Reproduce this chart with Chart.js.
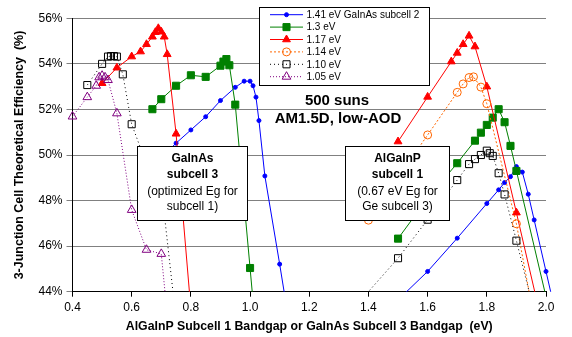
<!DOCTYPE html>
<html>
<head>
<meta charset="utf-8">
<script src="https://cdn.jsdelivr.net/npm/chart.js@4.4.1/dist/chart.umd.min.js"></script>
<style>
body{margin:0;background:#fff;}
#wrap{width:572px;height:337px;}
</style>
</head>
<body>
<div id="wrap"><canvas id="chart" width="572" height="337"></canvas></div>
<script>
// tick labels
const xTicks = [0.4, 0.6, 0.8, 1.0, 1.2, 1.4, 1.6, 1.8, 2.0]
const yTicks = [44, 46, 48, 50, 52, 54, 56]

// series names
const seriesNames = ['1.41 eV GaInAs subcell 2', '1.3 eV', '1.17 eV', '1.14 eV', '1.10 eV', '1.05 eV']

// each series: left branch (GaInAs subcell 3), null, right branch (AlGaInP subcell 1)
const blueX = [0.70, 0.75, 0.80, 0.85, 0.90, 0.95, 0.98, 1.00, 1.01, 1.02, 1.03, 1.05, 1.10, 1.12, null, 1.50, 1.60, 1.70, 1.80, 1.84, 1.86, 1.88, 1.90, 1.92, 1.94, 1.96, 2.00, 2.02]
const blueY = [49.9, 50.52, 51.10, 51.68, 52.39, 52.97, 53.24, 53.24, 53.04, 52.54, 51.51, 49.08, 45.21, 43.6, null, 43.64, 44.89, 46.35, 47.87, 48.47, 48.79, 49.05, 49.49, 49.25, 48.28, 47.15, 44.89, 43.76]

const greenX = [0.67, 0.70, 0.75, 0.80, 0.85, 0.90, 0.91, 0.92, 0.93, 0.95, 1.00, 1.01, null, 1.50, 1.60, 1.70, 1.76, 1.78, 1.80, 1.82, 1.84, 1.86, 1.88, 1.90, 2.00]
const greenY = [52.01, 52.45, 53.04, 53.50, 53.43, 53.92, 54.10, 54.21, 53.94, 52.21, 45.04, 43.6, null, 46.33, 48.1, 49.64, 50.63, 50.98, 51.32, 51.64, 52.01, 51.44, 50.40, 49.30, 43.78]

const redX = [0.50, 0.55, 0.60, 0.63, 0.65, 0.67, 0.68, 0.69, 0.70, 0.71, 0.72, 0.75, 0.80, null, 1.50, 1.60, 1.68, 1.70, 1.72, 1.74, 1.76, 1.80, 1.90, 1.97]
const redY = [53.15, 53.83, 54.32, 54.54, 54.86, 55.19, 55.39, 55.56, 55.41, 55.19, 54.42, 50.93, 43.23, null, 50.59, 52.55, 54.10, 54.48, 54.86, 55.23, 54.76, 53.0, 47.47, 43.55]

const orangeX = [1.40, 1.50, 1.60, 1.70, 1.72, 1.74, 1.755, 1.78, 1.80, 1.90, 1.95]
const orangeY = [47.14, 49.0, 50.88, 52.75, 53.12, 53.40, 53.43, 52.98, 52.25, 46.98, 43.5]

const blackX = [0.45, 0.50, 0.52, 0.53, 0.54, 0.55, 0.57, 0.60, 0.65, 0.70, 0.75, null, 1.35, 1.50, 1.60, 1.70, 1.74, 1.76, 1.78, 1.80, 1.81, 1.82, 1.84, 1.86, 1.90, 1.95]
const blackY = [53.07, 54.0, 54.32, 54.34, 54.34, 54.32, 53.54, 51.35, 49.6, 48.6, 42.77, null, 43.27, 45.47, 47.16, 48.9, 49.6, 49.82, 50.0, 50.19, 50.08, 49.96, 49.2, 48.27, 46.24, 43.64]

const purpleX = [0.40, 0.45, 0.48, 0.49, 0.50, 0.51, 0.52, 0.55, 0.60, 0.65, 0.70, 0.72]
const purpleY = [51.69, 52.54, 53.04, 53.41, 53.48, 53.41, 53.29, 51.83, 47.59, 45.84, 45.66, 43.0]

const FONT = 'Arial, "Liberation Sans", sans-serif'

//junta x e y en puntos, null corta la linea
function pts(xs, ys){
    return xs.map((x, i) => x === null ? {x: null, y: null} : {x: x, y: ys[i]})
}

function serie(i, xs, ys, color, style, radius, fill, dash, order, clip){
    return {
        label: seriesNames[i],
        data: pts(xs, ys),
        borderColor: color,
        borderWidth: 1,
        borderDash: dash,
        pointStyle: style,
        pointRadius: radius,
        pointHoverRadius: radius,
        pointBackgroundColor: fill,
        pointBorderColor: color,
        pointBorderWidth: 1,
        fill: false,
        tension: 0,
        order: order,
        clip: clip
    }
}

const box = {left: 0, top: 8, right: 8, bottom: 0}

const datasets = [
    serie(0, blueX, blueY, '#0000ff', 'circle', 2, '#0000ff', [], 6, box),
    serie(1, greenX, greenY, '#008000', 'rect', 5, '#008000', [], 5, box),
    serie(2, redX, redY, '#ff0000', 'triangle', 4.5, '#ff0000', [], 4, box),
    serie(3, orangeX, orangeY, '#ff6600', 'circle', 4, 'rgba(0,0,0,0)', [2, 2], 3, box),
    serie(4, blackX, blackY, '#000000', 'rect', 5, 'rgba(0,0,0,0)', [1, 3], 2, box),
    serie(5, purpleX, purpleY, '#800080', 'triangle', 5, 'rgba(0,0,0,0)', [1, 2], 1, {left: 8, top: 8, right: 8, bottom: 0})
]

//cajas de texto, leyenda propia
const notes = {
    id: 'notes',
    afterDraw(chart){
        const ctx = chart.ctx
        ctx.save()
        // text boxes
        const boxes = [
            {x: 137.5, y: 146.5, w: 110, h: 74, cx: 192.5, lines: [['GaInAs', true], ['subcell 3', true], ['(optimized Eg for', false], ['subcell 1)', false]]},
            {x: 345.5, y: 146.5, w: 104, h: 74, cx: 397.5, lines: [['AlGaInP', true], ['subcell 1', true], ['(0.67 eV Eg for', false], ['Ge subcell 3)', false]]}
        ]
        const ly = [158.5, 175, 191.5, 207]
        boxes.forEach(b => {
            ctx.fillStyle = '#fff'
            ctx.fillRect(b.x, b.y, b.w, b.h)
            ctx.strokeStyle = '#000'
            ctx.lineWidth = 1
            ctx.strokeRect(b.x, b.y, b.w, b.h)
            ctx.fillStyle = '#000'
            ctx.textAlign = 'center'
            ctx.textBaseline = 'middle'
            b.lines.forEach((l, i) => {
                ctx.font = (l[1] ? 'bold ' : '') + '12px ' + FONT
                ctx.fillText(l[0], b.cx, ly[i])
            })
        })
        ctx.font = 'bold 15px ' + FONT
        ctx.fillText('500 suns', 337, 100.5)
        ctx.fillText('AM1.5D, low-AOD', 338, 118.5)

        // legend
        ctx.fillStyle = '#fff'
        ctx.fillRect(259.5, 7.5, 170, 78)
        ctx.strokeStyle = '#000'
        ctx.strokeRect(259.5, 7.5, 170, 78)
        chart.data.datasets.forEach((ds, i) => {
            const y = 14.7 + i * 12.4
            ctx.save()
            ctx.strokeStyle = ds.borderColor
            ctx.lineWidth = 1
            ctx.setLineDash(ds.borderDash)
            ctx.beginPath()
            ctx.moveTo(270, y)
            ctx.lineTo(303, y)
            ctx.stroke()
            ctx.setLineDash([])
            ctx.fillStyle = ds.pointBackgroundColor
            ctx.strokeStyle = ds.pointBorderColor
            Chart.helpers.drawPoint(ctx, {pointStyle: ds.pointStyle, radius: ds.pointRadius, rotation: 0, borderWidth: 1}, 286.5, y)
            ctx.restore()
            ctx.fillStyle = '#000'
            ctx.font = '10px ' + FONT
            ctx.textAlign = 'left'
            ctx.textBaseline = 'middle'
            ctx.fillText(ds.label, 306.5, y + 0.5)
        })
        ctx.restore()
    }
}

const chart = new Chart(document.getElementById('chart').getContext('2d'), {
    type: 'line',
    data: {datasets: datasets},
    options: {
        responsive: false,
        animation: false,
        devicePixelRatio: 1,
        layout: {padding: {top: 18.3, right: 26, left: 0, bottom: 0}},
        plugins: {legend: {display: false}, tooltip: {enabled: false}},
        scales: {
            x: {
                type: 'linear',
                min: 0.4,
                max: 2.0,
                afterBuildTicks: s => { s.ticks = xTicks.map(v => ({value: v})) },
                afterFit: s => { s.height = 45.3 },
                ticks: {color: '#000', font: {family: FONT, size: 12}, padding: 4, maxRotation: 0,
                    callback: v => Number(v).toFixed(1)},
                grid: {drawOnChartArea: false, drawTicks: true, tickLength: 5, color: '#000'},
                border: {color: '#000', width: 1},
                title: {display: true, text: 'AlGaInP Subcell 1 Bandgap or GaInAs Subcell 3 Bandgap  (eV)',
                    color: '#000', font: {family: FONT, size: 12.3, weight: 'bold'}, padding: {top: 0, bottom: 3}}
            },
            y: {
                min: 44,
                max: 56,
                afterBuildTicks: s => { s.ticks = yTicks.map(v => ({value: v})) },
                afterFit: s => { s.width = 72.5 },
                ticks: {color: '#000', font: {family: FONT, size: 12}, padding: 4,
                    callback: v => v + '%'},
                grid: {color: '#808080', tickLength: 6, lineWidth: 1},
                border: {color: '#000', width: 1},
                title: {display: true, text: '3-Junction Cell Theoretical Efficiency  (%)',
                    color: '#000', font: {family: FONT, size: 12.5, weight: 'bold'}, padding: {top: 12, bottom: 0}}
            }
        }
    },
    plugins: [notes]
})
</script>
</body>
</html>
